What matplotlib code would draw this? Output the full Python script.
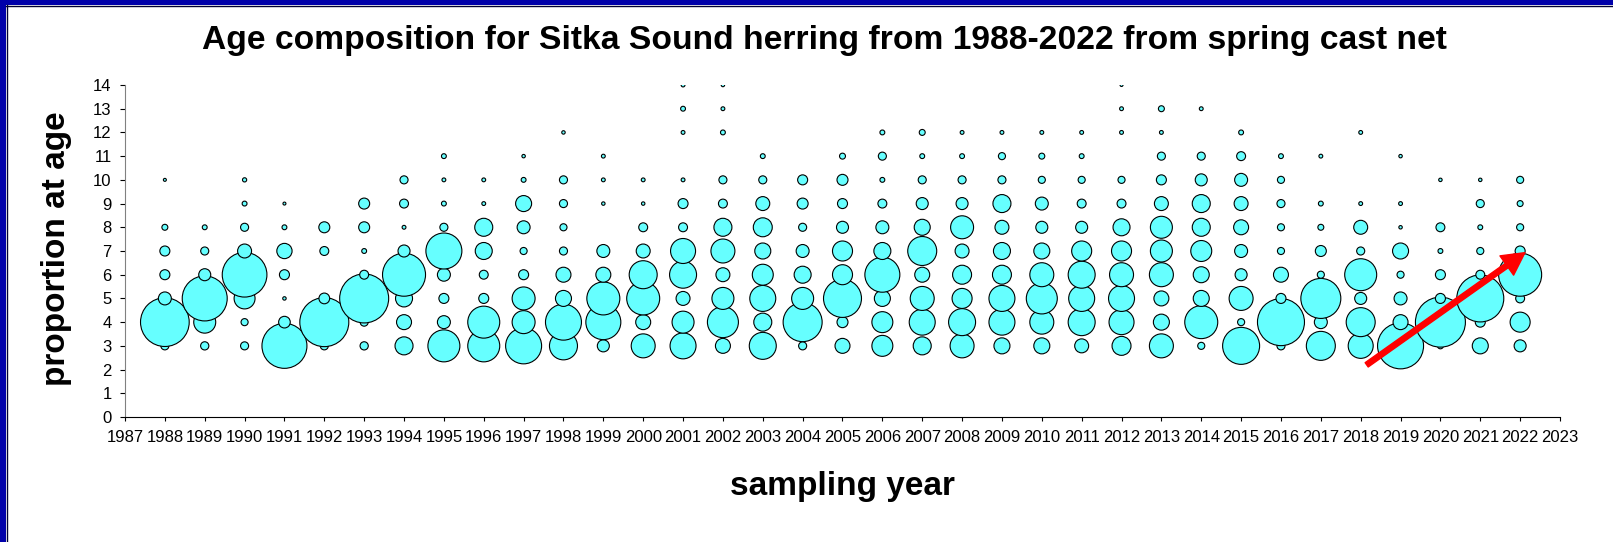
import matplotlib
matplotlib.use("Agg")
import matplotlib.pyplot as plt
from matplotlib.lines import Line2D
from matplotlib.patches import Rectangle

years = list(range(1988, 2023))
ages = list(range(3, 15))

# proportion at age, one list per age, years 1988..2022 (0 = no fish sampled)
age3 = [.022, .023, .022, .686, .022, .023, .110, .347, .347, .439, .266, .049, .195, .229, .076, .247, .022, .076,
        .149, .110, .195, .087, .087, .066, .122, .195, .017, .464, .022, .285, .212, .717, .012, .087, .049]
age4 = [.804, .164, .017, .046, .814, .022, .076, .057, .347, .179, .439, .415, .076, .164, .326, .110, .516, .041,
        .149, .229, .247, .229, .195, .247, .212, .087, .369, .017, .749, .057, .285, .076, .847, .034, .136]
age5 = [.057, .686, .149, .004, .039, .814, .098, .034, .034, .179, .087, .369, .369, .066, .164, .229, .164, .489,
        .087, .195, .136, .229, .326, .229, .229, .076, .087, .195, .034, .542, .049, .057, .034, .749, .027]
age6 = [.034, .049, .677, .034, 0, .027, .627, .057, .027, .034, .076, .076, .266, .247, .066, .149, .098, .136,
        .415, .076, .122, .122, .195, .247, .195, .195, .087, .049, .076, .017, .347, .017, .034, .027, .627]
age7 = [.034, .022, .066, .079, .027, .008, .049, .439, .098, .017, .022, .057, .066, .212, .195, .087, .057, .136,
        .098, .285, .066, .098, .087, .136, .136, .164, .149, .057, .017, .041, .022, .087, .008, .017, .034]
age8 = [.012, .008, .022, .008, .041, .041, .005, .022, .110, .057, .017, 0, .027, .027, .110, .122, .022, .049,
        .057, .087, .179, .066, .049, .049, .098, .164, .110, .076, .017, .012, .066, .004, .027, .008, .017]
age9 = [0, 0, .008, .003, 0, .041, .027, .008, .005, .087, .022, .004, .004, .034, .027, .066, .041, .034,
        .027, .049, .049, .110, .057, .027, .027, .066, .110, .066, .022, .008, .005, .005, 0, .022, .012]
age10 = [.003, 0, .006, 0, 0, 0, .022, .005, .005, .008, .022, .005, .005, .005, .022, .022, .034, .041,
         .008, .022, .022, .022, .017, .017, .017, .034, .049, .057, .017, 0, 0, 0, .004, .004, .017]
age11 = [0, 0, 0, 0, 0, 0, 0, .008, 0, .004, 0, .005, 0, 0, 0, .008, 0, .012,
         .022, .008, .008, .017, .012, .008, 0, .022, .022, .027, .008, .005, 0, .004, 0, 0, 0]
age12 = [0, 0, 0, 0, 0, 0, 0, 0, 0, 0, .004, 0, 0, .005, .008, 0, 0, 0,
         .008, .012, .005, .005, .005, .005, .005, .005, 0, .008, 0, 0, .005, 0, 0, 0, 0]
age13 = [0, 0, 0, 0, 0, 0, 0, 0, 0, 0, 0, 0, 0, .008, .005, 0, 0, 0,
         0, 0, 0, 0, 0, 0, .005, .012, .005, 0, 0, 0, 0, 0, 0, 0, 0]
age14 = [0, 0, 0, 0, 0, 0, 0, 0, 0, 0, 0, 0, 0, .005, .004, 0, 0, 0,
         0, 0, 0, 0, 0, 0, .003, 0, 0, 0, 0, 0, 0, 0, 0, 0, 0]

by_age = [age3, age4, age5, age6, age7, age8, age9, age10, age11, age12, age13, age14]

title = "Age composition for Sitka Sound herring from 1988-2022 from spring cast net"

W, H, DPI = 1613, 542, 100
SIZE_SCALE = 1529  # points^2 per unit proportion (bubble area ~ proportion)

plt.rcParams["font.family"] = ["Liberation Sans", "DejaVu Sans"]

fig = plt.figure(figsize=(W / DPI, H / DPI), dpi=DPI)
ax = fig.add_axes([125 / W, 1 - 417 / H, (1560 - 125) / W, (417 - 85) / H])

# later ages drawn on top, like the original series order
for age, values in zip(ages, by_age):
    xs = [y for y, v in zip(years, values) if v > 0]
    ss = [v * SIZE_SCALE for v in values if v > 0]
    ax.scatter(xs, [age] * len(xs), s=ss, color="#66FFFF", edgecolors="black",
               linewidths=0.8, zorder=2 + age * 0.01)

ax.set_xlim(1987, 2023)
ax.set_ylim(0, 14)
ax.set_xticks(range(1987, 2024))
ax.set_yticks(range(0, 15))
ax.tick_params(axis="x", direction="out", length=3, width=0.8, pad=6.5, labelsize=12)
ax.tick_params(axis="y", direction="out", length=3.6, width=0.8, pad=6, labelsize=12)

for side in ("top", "right"):
    ax.spines[side].set_visible(False)
ax.spines["left"].set_color("#808080")
ax.spines["bottom"].set_color("black")

ax.annotate("", xy=(2022.12, 6.93), xytext=(2018.15, 2.2),
            arrowprops=dict(facecolor="red", edgecolor="red", width=3.8,
                            headwidth=17, headlength=16),
            zorder=10)

fig.text(824 / W, 1 - 41 / H, title, ha="center", va="center",
         fontsize=24.2, fontweight="bold")
fig.text(842 / W, 1 - 487 / H, "sampling year", ha="center", va="center",
         fontsize=24, fontweight="bold")
fig.text(57 / W, 1 - 249 / H, "proportion at age", ha="center", va="center",
         rotation=90, fontsize=24, fontweight="bold")

# blue frame on top and left edge
fig.add_artist(Rectangle((0, 1 - 5 / H), 1, 5 / H, transform=fig.transFigure,
                         facecolor="#0000AA", edgecolor="none"))
fig.add_artist(Rectangle((0, 0), 6 / W, 1, transform=fig.transFigure,
                         facecolor="#0000AA", edgecolor="none"))
fig.add_artist(Line2D([6 / W, 1], [1 - 5.5 / H, 1 - 5.5 / H], transform=fig.transFigure,
                      color="#000033", lw=1))
fig.add_artist(Line2D([6.5 / W, 6.5 / W], [0, 1 - 5 / H], transform=fig.transFigure,
                      color="#000033", lw=1))

fig.savefig("out.png", dpi=DPI)
